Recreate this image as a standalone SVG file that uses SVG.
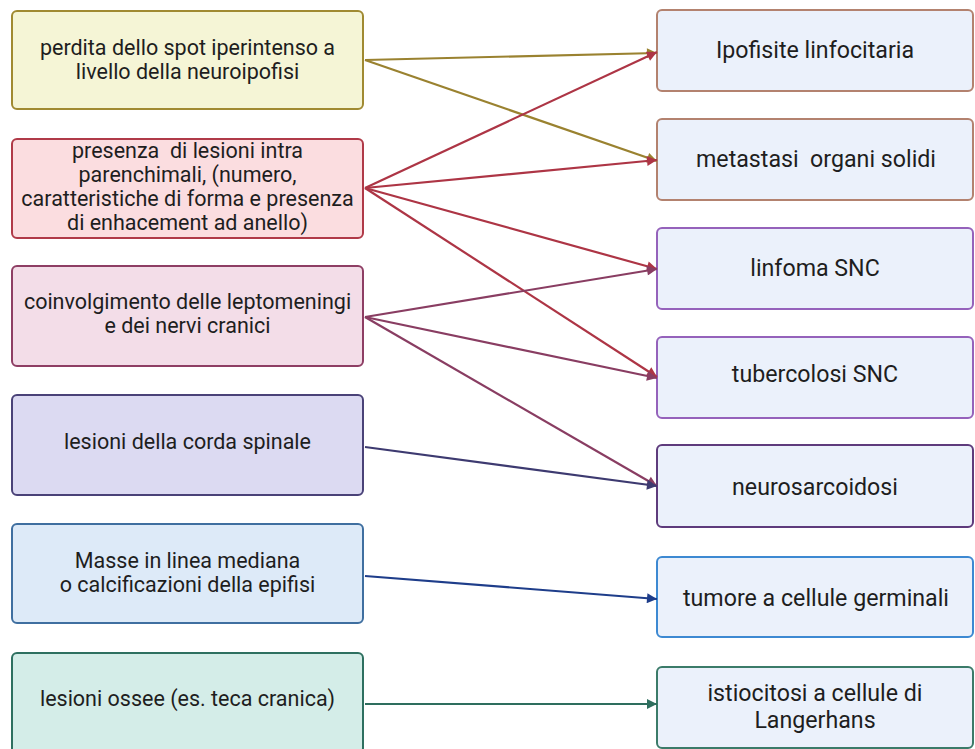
<svg xmlns="http://www.w3.org/2000/svg" width="975" height="749" viewBox="0 0 975 749">
<style>
text{font-family:Roboto,"Liberation Sans",sans-serif;font-size:21.5px;fill:#1e1e1e;text-anchor:middle;white-space:pre}
.rt{font-size:23.2px}
rect{stroke-width:2}
.r{fill:#ebf1fb}
line{stroke-width:2.2;fill:none}
</style>
<defs>
<marker id="m1" viewBox="0 0 10 10" refX="10" refY="5" markerWidth="12" markerHeight="10" markerUnits="userSpaceOnUse" orient="auto"><path d="M0,0L10,5L0,10z" fill="#9a8230"/></marker>
<marker id="m2" viewBox="0 0 10 10" refX="10" refY="5" markerWidth="12" markerHeight="10" markerUnits="userSpaceOnUse" orient="auto"><path d="M0,0L10,5L0,10z" fill="#ad3545"/></marker>
<marker id="m3" viewBox="0 0 10 10" refX="10" refY="5" markerWidth="12" markerHeight="10" markerUnits="userSpaceOnUse" orient="auto"><path d="M0,0L10,5L0,10z" fill="#893d62"/></marker>
<marker id="m4" viewBox="0 0 10 10" refX="10" refY="5" markerWidth="12" markerHeight="10" markerUnits="userSpaceOnUse" orient="auto"><path d="M0,0L10,5L0,10z" fill="#3d3a70"/></marker>
<marker id="m5" viewBox="0 0 10 10" refX="10" refY="5" markerWidth="12" markerHeight="10" markerUnits="userSpaceOnUse" orient="auto"><path d="M0,0L10,5L0,10z" fill="#1e3d8a"/></marker>
<marker id="m6" viewBox="0 0 10 10" refX="10" refY="5" markerWidth="12" markerHeight="10" markerUnits="userSpaceOnUse" orient="auto"><path d="M0,0L10,5L0,10z" fill="#2e6e5e"/></marker>
</defs>
<rect width="975" height="749" fill="#fff"/>
<g id="L1"><rect x="12" y="11" width="351" height="98" rx="5" fill="#f5f5d6" stroke="#a08a32"/><text x="187.5" y="55">perdita dello spot iperintenso a</text><text x="187.5" y="79">livello della neuroipofisi</text></g>
<g id="L2"><rect x="12" y="139" width="351" height="99" rx="5" fill="#fbdde0" stroke="#b03a48"/><text x="187.5" y="158" xml:space="preserve">presenza  di lesioni intra</text><text x="187.5" y="182">parenchimali, (numero,</text><text x="187.5" y="206">caratteristiche di forma e presenza</text><text x="187.5" y="230">di enhacement ad anello)</text></g>
<g id="L3"><rect x="12" y="266" width="351" height="100" rx="5" fill="#f3dde8" stroke="#8e3e64"/><text x="187.5" y="309">coinvolgimento delle leptomeningi</text><text x="187.5" y="333">e dei nervi cranici</text></g>
<g id="L4"><rect x="12" y="395" width="351" height="100" rx="5" fill="#dcdaf2" stroke="#4a4278"/><text x="187.5" y="449">lesioni della corda spinale</text></g>
<g id="L5"><rect x="12" y="524" width="351" height="99" rx="5" fill="#ddeaf8" stroke="#3f6fa0"/><text x="187.5" y="568">Masse in linea mediana</text><text x="187.5" y="592">o calcificazioni della epifisi</text></g>
<g id="L6"><rect x="12" y="653" width="351" height="100" rx="5" fill="#d4ede8" stroke="#2e7060"/><text x="187.5" y="706">lesioni ossee (es. teca cranica)</text></g>
<g id="R1"><rect class="r" x="657" y="10" width="316" height="81" rx="5" stroke="#b3826f"/><text class="rt" x="815" y="58">Ipofisite linfocitaria</text></g>
<g id="R2"><rect class="r" x="657" y="119" width="316" height="81" rx="5" stroke="#b3826f"/><text class="rt" x="816" y="167" xml:space="preserve">metastasi  organi solidi</text></g>
<g id="R3"><rect class="r" x="657" y="228" width="316" height="81" rx="5" stroke="#9562bb"/><text class="rt" x="815" y="276">linfoma SNC</text></g>
<g id="R4"><rect class="r" x="657" y="337" width="316" height="81" rx="5" stroke="#9562bb"/><text class="rt" x="815" y="382">tubercolosi SNC</text></g>
<g id="R5"><rect class="r" x="657" y="445" width="316" height="82" rx="5" stroke="#5e3b7c"/><text class="rt" x="815" y="495">neurosarcoidosi</text></g>
<g id="R6"><rect class="r" x="657" y="557" width="316" height="80" rx="5" stroke="#3d89d2"/><text class="rt" x="816" y="606">tumore a cellule germinali</text></g>
<g id="R7"><rect class="r" x="657" y="667" width="316" height="81" rx="5" stroke="#3b7b69"/><text class="rt" x="815" y="701">istiocitosi a cellule di</text><text class="rt" x="815" y="728">Langerhans</text></g>
<g id="connectors">
<line x1="365" y1="60" x2="657" y2="53" stroke="#9a8230" marker-end="url(#m1)"/>
<line x1="365" y1="60" x2="657" y2="161" stroke="#9a8230" marker-end="url(#m1)"/>
<line x1="365" y1="188" x2="657" y2="52" stroke="#ad3545" marker-end="url(#m2)"/>
<line x1="365" y1="188" x2="657" y2="160" stroke="#ad3545" marker-end="url(#m2)"/>
<line x1="365" y1="188" x2="657" y2="269" stroke="#ad3545" marker-end="url(#m2)"/>
<line x1="365" y1="188" x2="657" y2="377" stroke="#ad3545" marker-end="url(#m2)"/>
<line x1="365" y1="317" x2="657" y2="269" stroke="#893d62" marker-end="url(#m3)"/>
<line x1="365" y1="317" x2="657" y2="378" stroke="#893d62" marker-end="url(#m3)"/>
<line x1="365" y1="317" x2="657" y2="486" stroke="#893d62" marker-end="url(#m3)"/>
<line x1="365" y1="447" x2="657" y2="486" stroke="#3d3a70" marker-end="url(#m4)"/>
<line x1="365" y1="576" x2="657" y2="599" stroke="#1e3d8a" marker-end="url(#m5)"/>
<line x1="365" y1="704" x2="657" y2="704" stroke="#2e6e5e" marker-end="url(#m6)"/>
</g>
</svg>
